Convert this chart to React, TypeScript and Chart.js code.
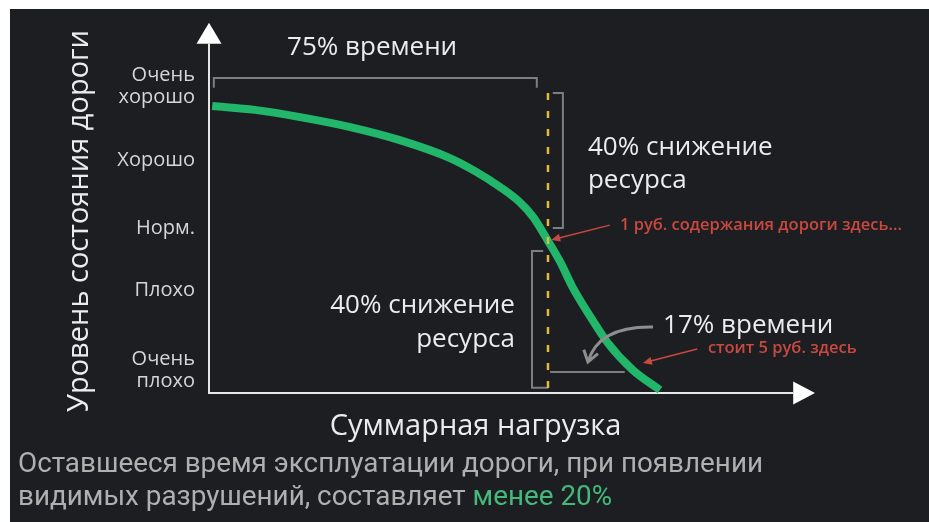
import React, { useEffect, useRef } from 'react';
import { Chart, registerables } from 'chart.js';

Chart.register(...registerables);

// ---- data (load share, road condition) ----
const loadValues = [0.6, 8.6, 17.1, 26.5, 35.8, 45.2, 49.9, 54.6, 58.3, 60.8, 63.6, 65.9, 68.1, 71.1, 74.7, 79.5, 84.6];
const conditionValues = [83.4, 82.3, 80.2, 77.3, 73.5, 68.3, 64.5, 59.9, 55.5, 51.2, 44.2, 38.1, 31.1, 23.3, 14.8, 6.7, 0.9];
const conditionTickValues = [6.7, 29.9, 48, 67.7, 89.2];
const conditionTickLabels: (string | string[])[] = [['Очень', 'плохо'], 'Плохо', 'Норм.', 'Хорошо', ['Очень', 'хорошо']];
const yAxisTitle = 'Уровень состояния дороги';
const xAxisTitle = 'Суммарная нагрузка';
const topLabel = '75% времени';
const resourceLabel = ['40% снижение', 'ресурса'];
const timeLabel = '17% времени';
const costLabel1 = '1 руб. содержания дороги здесь...';
const costLabel2 = 'стоит 5 руб. здесь';
const footerLine1 = 'Оставшееся время эксплуатации дороги, при появлении';
const footerLine2 = 'видимых разрушений, составляет ';
const footerAccent = 'менее 20%';

// critical point (where the dashed line crosses the curve)
const criticalLoad = 63.6;

const FONT = "'Open Sans', sans-serif";
const BG = '#1c1e22';
const TEXT = '#ececec';
const TICK = '#d6d6d6';
const AXIS = '#e6e6e6';
const GRAY = '#7e7e7e';
const RED = '#c9493f';
const GREEN = '#21b66a';
const YELLOW = '#e2bb3e';

const annotationPlugin = {
  id: 'roadAnnotations',
  beforeDraw(chart: any) {
    const { ctx, width, height } = chart;
    ctx.save();
    ctx.fillStyle = BG;
    ctx.fillRect(0, 0, width, height);
    ctx.restore();
  },
  afterDraw(chart: any) {
    const { ctx, scales, chartArea } = chart;
    const xs = scales.x;
    const ys = scales.y;
    const X = (v: number) => xs.getPixelForValue(v);
    const Y = (v: number) => ys.getPixelForValue(v);
    ctx.save();

    // axis arrows
    ctx.strokeStyle = AXIS;
    ctx.fillStyle = '#ffffff';
    ctx.lineWidth = 2;
    const ax = chartArea.left;
    const ay = chartArea.bottom;
    ctx.beginPath();
    ctx.moveTo(ax, chartArea.top);
    ctx.lineTo(ax, Y(101.5));
    ctx.moveTo(chartArea.right, ay);
    ctx.lineTo(X(109.6), ay);
    ctx.stroke();
    ctx.beginPath();
    ctx.moveTo(ax, Y(107.6));
    ctx.lineTo(ax - 12.5, Y(101.5));
    ctx.lineTo(ax + 12.5, Y(101.5));
    ctx.closePath();
    ctx.fill();
    ctx.beginPath();
    ctx.moveTo(X(113.7), ay);
    ctx.lineTo(X(109.6), ay - 11.5);
    ctx.lineTo(X(109.6), ay + 11.5);
    ctx.closePath();
    ctx.fill();

    // gray brackets
    ctx.strokeStyle = GRAY;
    ctx.lineWidth = 2;
    ctx.beginPath();
    ctx.moveTo(X(0.9), Y(88.7));
    ctx.lineTo(X(0.9), Y(91.6));
    ctx.lineTo(X(61.5), Y(91.6));
    ctx.lineTo(X(61.5), Y(88.7));
    ctx.moveTo(X(64.5), Y(87.2));
    ctx.lineTo(X(66.4), Y(87.2));
    ctx.lineTo(X(66.4), Y(48.0));
    ctx.lineTo(X(64.5), Y(48.0));
    ctx.moveTo(X(62.7), Y(41.3));
    ctx.lineTo(X(60.6), Y(41.3));
    ctx.lineTo(X(60.6), Y(1.5));
    ctx.lineTo(X(criticalLoad), Y(1.5));
    ctx.moveTo(X(64.0), Y(6.1));
    ctx.lineTo(X(78.0), Y(6.1));
    ctx.stroke();

    // dashed critical line
    ctx.strokeStyle = YELLOW;
    ctx.lineWidth = 2.5;
    ctx.setLineDash([7, 11]);
    ctx.beginPath();
    ctx.moveTo(X(criticalLoad), Y(87.2));
    ctx.lineTo(X(criticalLoad), Y(0));
    ctx.stroke();
    ctx.setLineDash([]);

    // curved gray arrow
    const sx = X(83.3), sy = Y(19.2), cx = X(73.0), cy = Y(19.5), ex = X(71.1), ey = Y(9.0);
    ctx.strokeStyle = '#8e8e8e';
    ctx.lineWidth = 3;
    ctx.beginPath();
    ctx.moveTo(sx, sy);
    ctx.quadraticCurveTo(cx, cy, ex, ey);
    const ang = Math.atan2(ey - cy, ex - cx);
    ctx.moveTo(ex - 13 * Math.cos(ang - 0.6), ey - 13 * Math.sin(ang - 0.6));
    ctx.lineTo(ex, ey);
    ctx.lineTo(ex - 13 * Math.cos(ang + 0.6), ey - 13 * Math.sin(ang + 0.6));
    ctx.stroke();

    // red arrows
    const redArrow = (x1: number, y1: number, x2: number, y2: number) => {
      const a = Math.atan2(y2 - y1, x2 - x1);
      ctx.strokeStyle = RED;
      ctx.fillStyle = RED;
      ctx.lineWidth = 1.5;
      ctx.beginPath();
      ctx.moveTo(x1, y1);
      ctx.lineTo(x2 - 6 * Math.cos(a), y2 - 6 * Math.sin(a));
      ctx.stroke();
      ctx.beginPath();
      ctx.moveTo(x2, y2);
      ctx.lineTo(x2 - 9 * Math.cos(a) + 4 * Math.sin(a), y2 - 9 * Math.sin(a) - 4 * Math.cos(a));
      ctx.lineTo(x2 - 9 * Math.cos(a) - 4 * Math.sin(a), y2 - 9 * Math.sin(a) + 4 * Math.cos(a));
      ctx.closePath();
      ctx.fill();
    };
    redArrow(X(75.2), Y(48.8), X(64.2), Y(44.5));
    redArrow(X(91.6), Y(12.8), X(81.4), Y(8.7));

    // texts
    ctx.textBaseline = 'alphabetic';
    ctx.fillStyle = TEXT;
    ctx.font = `26px ${FONT}`;
    ctx.textAlign = 'center';
    ctx.fillText(topLabel, X(30.6), Y(98.3));
    ctx.textAlign = 'left';
    ctx.fillText(resourceLabel[0], X(71.1), Y(69.2));
    ctx.fillText(resourceLabel[1], X(71.1), Y(59.6));
    ctx.fillText(timeLabel, X(85.2), Y(17.4));
    ctx.textAlign = 'right';
    ctx.fillText(resourceLabel[0], X(57.4), Y(23.3));
    ctx.fillText(resourceLabel[1], X(57.4), Y(13.4));

    ctx.fillStyle = RED;
    ctx.font = `600 16.5px ${FONT}`;
    ctx.textAlign = 'left';
    ctx.fillText(costLabel1, X(77.1), Y(47.4));
    ctx.fillText(costLabel2, X(93.6), Y(11.6));

    // footer
    ctx.font = `28px Roboto`;
    const k = 745 / ctx.measureText(footerLine1).width;
    ctx.save();
    ctx.translate(8, 463);
    ctx.scale(k, 1);
    ctx.fillStyle = '#b0b0b0';
    ctx.fillText(footerLine1, 0, 0);
    ctx.restore();
    ctx.save();
    ctx.translate(8, 496);
    ctx.scale(k, 1);
    ctx.fillStyle = '#b0b0b0';
    ctx.fillText(footerLine2, 0, 0);
    const w2 = ctx.measureText(footerLine2).width;
    ctx.fillStyle = '#45b97c';
    ctx.fillText(footerAccent, w2, 0);
    ctx.restore();

    ctx.restore();
  },
};

export default function App() {
  const ref = useRef<HTMLCanvasElement>(null);
  useEffect(() => {
    const chart = new Chart(ref.current as HTMLCanvasElement, {
      type: 'line',
      data: {
        datasets: [
          {
            data: loadValues.map((v, i) => ({ x: v, y: conditionValues[i] })),
            borderColor: GREEN,
            borderWidth: 8,
            pointRadius: 0,
            cubicInterpolationMode: 'monotone',
            borderCapStyle: 'butt',
            borderJoinStyle: 'round',
            fill: false,
            clip: false,
          } as any,
        ],
      },
      options: {
        animation: false,
        responsive: true,
        maintainAspectRatio: false,
        events: [],
        layout: { padding: { left: 0, top: 40, right: 187, bottom: 69 } },
        plugins: { legend: { display: false }, tooltip: { enabled: false } },
        scales: {
          x: {
            type: 'linear',
            min: 0,
            max: 100,
            grid: { display: false, drawTicks: false },
            ticks: { display: false },
            border: { display: true, color: AXIS, width: 2 },
            title: {
              display: true,
              text: xAxisTitle,
              color: TEXT,
              font: { family: FONT, size: 29, lineHeight: 1 },
              padding: { top: 0, bottom: 11.5 },
            },
            afterFit(s: any) {
              s.height = 60;
            },
          },
          y: {
            type: 'linear',
            min: 0,
            max: 100,
            grid: { display: false, drawTicks: false },
            border: { display: true, color: AXIS, width: 2 },
            afterBuildTicks(s: any) {
              s.ticks = conditionTickValues.map((v) => ({ value: v }));
            },
            ticks: {
              autoSkip: false,
              padding: 14,
              color: TICK,
              font: { family: FONT, size: 20, lineHeight: 1.1 },
              callback: (_v: any, i: number) => conditionTickLabels[i],
            },
            title: {
              display: true,
              text: yAxisTitle,
              color: TEXT,
              font: { family: FONT, size: 29, lineHeight: 1 },
              padding: { top: 55.5, bottom: 0 },
            },
            afterFit(s: any) {
              s.width = 199;
            },
          },
        },
      } as any,
      plugins: [annotationPlugin],
    });
    return () => chart.destroy();
  }, []);

  return (
    <div style={{ position: 'fixed', left: 10, top: 9, width: 919, height: 513, background: BG }}>
      <canvas ref={ref} />
    </div>
  );
}
